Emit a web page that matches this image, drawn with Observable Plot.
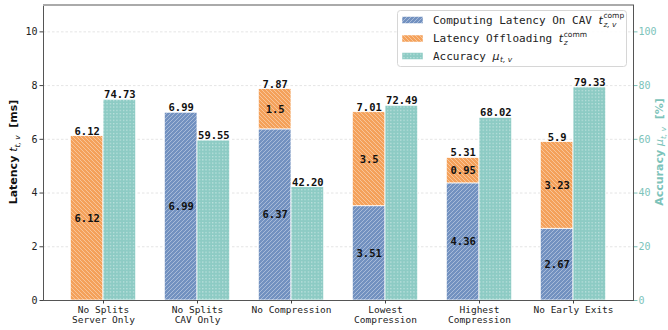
<!DOCTYPE html>
<html>
<head>
<meta charset="utf-8">
<script src="https://cdn.jsdelivr.net/npm/d3@7"></script>
<script src="https://cdn.jsdelivr.net/npm/@observablehq/plot@0.6"></script>
<style>
  html, body { margin: 0; padding: 0; background: #fff; }
  #chart svg { display: block; }
</style>
</head>
<body>
<div id="chart"></div>
<script>
// Scenario names (two-line tick labels) and measured values
const categories = ["No Splits\nServer Only", "No Splits\nCAV Only", "No Compression", "Lowest\nCompression", "Highest\nCompression", "No Early Exits"];
const computeLatency = [0, 6.99, 6.37, 3.51, 4.36, 2.67];   // ms, on the CAV
const offloadLatency = [6.12, 0, 1.5, 3.5, 0.95, 3.23];     // ms, communication
const accuracy = [74.73, 59.55, 42.20, 72.49, 68.02, 79.33]; // %
const latencyTicks = [0, 2, 4, 6, 8, 10];
const ACC_PER_MS = 10; // right axis: 10 % per 1 ms of the left axis

const rows = categories.map((cat, i) => ({
  cat,
  comp: computeLatency[i],
  comm: offloadLatency[i],
  total: computeLatency[i] + offloadLatency[i],
  acc: accuracy[i]
}));

const fmtShort = v => String(+v.toFixed(2));
const fmtFixed = v => v.toFixed(2);

const W = 668, H = 330;
const mL = 43, mR = 35, mT = 4.5, mB = 30;
const outerPad = 0.138;
const band = (W - mL - mR) / (categories.length + 2 * outerPad);
const barW = band * 0.348;
const side = (band - 2 * barW) / 2;

const teal = "#7cc3ba";
const barText = {fontWeight: "bold", fontSize: 10.5, fill: "#111"};

const plot = Plot.plot({
  width: W, height: H,
  marginLeft: mL, marginRight: mR, marginTop: mT, marginBottom: mB,
  style: {fontFamily: "'DejaVu Sans Mono', monospace", fontSize: "10px", background: "#fff", color: "#222"},
  x: {domain: categories, paddingInner: 0, paddingOuter: outerPad, axis: null, label: null},
  y: {domain: [0, 11], axis: null, label: null},
  marks: [
    Plot.gridY(latencyTicks.slice(1), {stroke: "#dedede", strokeOpacity: 1, strokeWidth: 0.8, strokeDasharray: "2.5,2"}),
    // latency: compute segment + offloading segment stacked
    Plot.barY(rows.filter(d => d.comp > 0), {x: "cat", y1: d => 0, y2: "comp", fill: "url(#pat-comp)", stroke: "#fff", strokeWidth: 0.8, insetLeft: side, insetRight: side + barW}),
    Plot.barY(rows.filter(d => d.comm > 0), {x: "cat", y1: "comp", y2: "total", fill: "url(#pat-comm)", stroke: "#fff", strokeWidth: 0.8, insetLeft: side, insetRight: side + barW}),
    // accuracy, drawn against the right-hand axis
    Plot.barY(rows, {x: "cat", y1: d => 0, y2: d => d.acc / ACC_PER_MS, fill: "url(#pat-acc)", stroke: "#fff", strokeWidth: 0.8, insetLeft: side + barW, insetRight: side}),
    // segment values
    Plot.text(rows.filter(d => d.comp > 0), {x: "cat", y: d => d.comp / 2, text: d => fmtShort(d.comp), dx: -barW / 2, ...barText}),
    Plot.text(rows.filter(d => d.comm > 0), {x: "cat", y: d => d.comp + d.comm / 2, text: d => fmtShort(d.comm), dx: -barW / 2, ...barText}),
    // totals and accuracy values above the bars
    Plot.text(rows, {x: "cat", y: "total", text: d => fmtShort(d.total), dx: -barW / 2, dy: -1.5, lineAnchor: "bottom", ...barText}),
    Plot.text(rows, {x: "cat", y: d => d.acc / ACC_PER_MS, text: d => fmtFixed(d.acc), dx: barW / 2, dy: -1.5, lineAnchor: "bottom", ...barText}),
    Plot.frame({stroke: "#555", strokeWidth: 1}),
    Plot.ruleY([11], {stroke: "#aaa", strokeWidth: 2}),
    Plot.axisY(latencyTicks, {anchor: "left", tickSize: 3.5, tickPadding: 2.5, label: null, stroke: "#444", fill: "#222"}),
    Plot.axisY(latencyTicks, {anchor: "right", tickSize: 3.5, tickPadding: 1.5, label: null, tickFormat: d => d * ACC_PER_MS, color: teal}),
    Plot.axisX({tickSize: 3.5, tickPadding: 1, label: null, fontSize: 9.5, lineHeight: 1.13, stroke: "#444", fill: "#222"})
  ]
});

document.getElementById("chart").appendChild(plot);

const svg = d3.select(plot);
const defs = svg.insert("defs", ":first-child");

function hatch(id, base, path, size) {
  const p = defs.append("pattern").attr("id", id).attr("patternUnits", "userSpaceOnUse")
    .attr("width", size).attr("height", size);
  p.append("rect").attr("width", size).attr("height", size).attr("fill", base);
  p.append("path").attr("d", path).attr("stroke", "rgba(255,255,255,0.5)").attr("stroke-width", 0.75).attr("fill", "none");
}
hatch("pat-comp", "#7291c0", "M-1,1 l2,-2 M0,4 l4,-4 M3,5 l2,-2", 4);
hatch("pat-comm", "#f4a15a", "M-1,3 l2,2 M0,0 l4,4 M3,-1 l2,2", 4);
{
  const p = defs.append("pattern").attr("id", "pat-acc").attr("patternUnits", "userSpaceOnUse")
    .attr("width", 3.3).attr("height", 3.3);
  p.append("rect").attr("width", 3.3).attr("height", 3.3).attr("fill", "#8dcbc4");
  p.append("rect").attr("x", 1).attr("y", 1).attr("width", 1).attr("height", 1).attr("fill", "rgba(255,255,255,0.7)");
}

const mathFont = "'DejaVu Sans', sans-serif";

// y-axis titles
function axisTitle(x, y, word, sym, sub, unit, color) {
  const t = svg.append("text")
    .attr("transform", `translate(${x},${y}) rotate(-90)`)
    .attr("text-anchor", "middle")
    .attr("font-family", mathFont)
    .attr("font-size", 11)
    .attr("fill", color);
  t.append("tspan").attr("font-weight", "bold").text(word + " ");
  t.append("tspan").attr("font-style", "italic").text(sym);
  t.append("tspan").attr("font-style", "italic").attr("font-size", 7.5).attr("dy", 3).text(sub);
  t.append("tspan").attr("font-weight", "bold").attr("dy", -3).text("  " + unit);
}
axisTitle(17, 152, "Latency", "t", "t, v", "[ms]", "#111");
axisTitle(663, 152, "Accuracy", "μ", "t, v", "[%]", teal);

// legend
const lg = svg.append("g").attr("text-anchor", "start");
lg.append("rect").attr("x", 397.5).attr("y", 10.5).attr("width", 229).attr("height", 56).attr("rx", 3)
  .attr("fill", "rgba(255,255,255,0.85)").attr("stroke", "#d6d6d6");
const entries = [
  {pat: "pat-comp", label: "Computing Latency On CAV ", sym: "t", sup: "comp", sub: "z, v", y: 20},
  {pat: "pat-comm", label: "Latency Offloading ", sym: "t", sup: "comm", sub: "z", y: 38.5},
  {pat: "pat-acc", label: "Accuracy ", sym: "μ", sup: null, sub: "t, v", y: 56}
];
for (const e of entries) {
  lg.append("rect").attr("x", 402).attr("y", e.y - 3.5).attr("width", 21).attr("height", 7)
    .attr("fill", `url(#${e.pat})`).attr("stroke", "#fff").attr("stroke-width", 0.5);
  const t = lg.append("text").attr("x", 433).attr("y", e.y).attr("dy", "0.35em")
    .attr("font-family", "'DejaVu Sans Mono', monospace").attr("font-size", 11).attr("fill", "#222");
  t.append("tspan").text(e.label);
  t.append("tspan").attr("font-family", mathFont).attr("font-style", "italic").text(e.sym);
  const end = 433 + t.node().getComputedTextLength() + 0.5;
  if (e.sup) {
    lg.append("text").attr("x", end).attr("y", e.y - 4.5).attr("dy", "0.35em")
      .attr("font-family", mathFont).attr("font-size", 7.5).attr("fill", "#222").text(e.sup);
  }
  lg.append("text").attr("x", end).attr("y", e.y + (e.sup ? 4 : 3)).attr("dy", "0.35em")
    .attr("font-family", mathFont).attr("font-style", "italic").attr("font-size", 7.5).attr("fill", "#222").text(e.sub);
}
</script>
</body>
</html>
